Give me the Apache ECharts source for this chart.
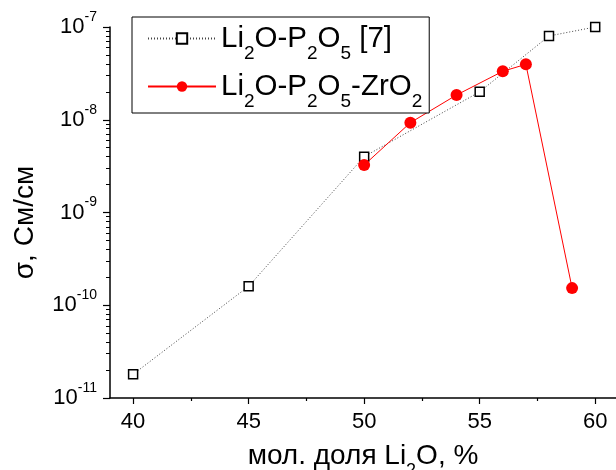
<!DOCTYPE html>
<html>
<head>
<meta charset="utf-8">
<script src="https://cdn.jsdelivr.net/npm/echarts@6/dist/echarts.min.js"></script>
<style>
html,body{margin:0;padding:0;background:#fff;}
#c{width:616px;height:470px;}
</style>
</head>
<body>
<div id="c"></div>
<script>
// Data
const seriesNames = ['Li2O-P2O5 [7]', 'Li2O-P2O5-ZrO2'];
const refX = [40, 45, 50, 55, 58, 60];
const refY = [1.8e-11, 1.6e-10, 4.0e-9, 2.0e-8, 8.0e-8, 1.0e-7];
const zrX = [50, 52, 54, 56, 57, 59];
const zrY = [3.25e-9, 9.3e-9, 1.85e-8, 3.33e-8, 3.96e-8, 1.53e-10];
const xMajorTicks = [40, 45, 50, 55, 60];
const xMinorTicks = [42.5, 47.5, 52.5, 57.5];
const yMinorTicksExp = [];
for (let e = -11; e < -7; e++) {
  for (let m = 2; m <= 9; m++) yMinorTicksExp.push(e + Math.log10(m));
}

const FONT = 'Liberation Sans, Arial, sans-serif';
const chart = echarts.init(document.getElementById('c'), null, {renderer: 'canvas'});

const legendRich = {
  m: {fontSize: 29.5, fontFamily: FONT, color: '#000', lineHeight: 29},
  s: {fontSize: 19, fontFamily: FONT, color: '#000', lineHeight: 18, padding: [30, 0, 0, 0]}
};
function legendFmt(name) {
  if (name === seriesNames[0]) return '{m|Li}{s|2}{m|O-P}{s|2}{m|O}{s|5}{m| [7]}';
  return '{m|Li}{s|2}{m|O-P}{s|2}{m|O}{s|5}{m|-ZrO}{s|2}';
}

const option = {
  animation: false,
  backgroundColor: '#fff',
  grid: {left: 110, right: 0, top: 27, bottom: 72, containLabel: false, outerBoundsMode: 'none'},
  legend: {
    orient: 'vertical',
    left: 132, top: 17,
    padding: [-3, 7, 2, 15],
    itemGap: -1,
    itemWidth: 68,
    itemHeight: 13,
    borderColor: '#000',
    borderWidth: 1,
    backgroundColor: '#fff',
    data: seriesNames,
    formatter: legendFmt,
    textStyle: {rich: legendRich}
  },
  xAxis: [{
    type: 'value', min: 39, max: 60.9,
    name: '{m|мол. доля Li}{s|2}{m|O, %}',
    nameLocation: 'middle', nameGap: 44, nameMoveOverlap: false,
    nameTextStyle: {rich: {
      m: {fontSize: 28, fontFamily: FONT, color: '#000', lineHeight: 28},
      s: {fontSize: 18, fontFamily: FONT, color: '#000', lineHeight: 18, padding: [30, 0, 0, 0]}
    }},
    axisLine: {onZero: false, lineStyle: {color: '#000', width: 1.5}},
    axisTick: {show: true, length: 6, inside: false, customValues: xMajorTicks, lineStyle: {color: '#000', width: 1.2}},
    axisLabel: {customValues: xMajorTicks, margin: 13, fontSize: 22, fontFamily: FONT, color: '#000'},
    splitLine: {show: false}
  }, {
    type: 'value', min: 39, max: 60.9, position: 'bottom', offset: 0,
    axisLine: {show: true, onZero: false, lineStyle: {color: 'rgba(0,0,0,0)'}},
    axisTick: {show: true, length: 3, inside: false, customValues: xMinorTicks, lineStyle: {color: '#000', width: 1.2}},
    axisLabel: {show: false},
    splitLine: {show: false}
  }],
  yAxis: [{
    type: 'log', logBase: 10, min: 1e-11, max: 1e-7, interval: 1,
    name: 'σ, См/см',
    nameLocation: 'middle', nameGap: 71, nameMoveOverlap: false,
    nameTextStyle: {fontSize: 28, fontFamily: FONT, color: '#000', padding: [0, 20, 0, 0]},
    axisLine: {show: true, onZero: false, lineStyle: {color: '#000', width: 1.5}},
    axisTick: {show: true, length: 7, lineStyle: {color: '#000', width: 1.2}},
    axisLabel: {
      margin: 13,
      formatter: function (v) { return '{b|10}{s|' + Math.round(Math.log10(v)) + '}'; },
      rich: {
        b: {fontSize: 22, fontFamily: FONT, color: '#000', lineHeight: 34},
        s: {fontSize: 14, fontFamily: FONT, color: '#000', lineHeight: 14, verticalAlign: 'top'}
      }
    },
    splitLine: {show: false}
  }, {
    type: 'value', min: -11, max: -7, position: 'left', offset: 0,
    axisLine: {show: true, onZero: false, lineStyle: {color: 'rgba(0,0,0,0)'}},
    axisTick: {show: true, length: 4, inside: false, customValues: yMinorTicksExp, lineStyle: {color: '#000', width: 1}},
    axisLabel: {show: false},
    splitLine: {show: false}
  }],
  series: [{
    name: seriesNames[0],
    type: 'line',
    data: refX.map((x, i) => [x, refY[i]]),
    symbol: 'rect', symbolSize: 9,
    clip: false,
    lineStyle: {color: '#444', width: 1, type: [1, 2]},
    itemStyle: {color: '#fff', borderColor: '#000', borderWidth: 1.5}
  }, {
    name: seriesNames[1],
    type: 'line',
    data: zrX.map((x, i) => [x, zrY[i]]),
    symbol: 'circle', symbolSize: 12,
    clip: false,
    lineStyle: {color: '#ff0000', width: 1},
    itemStyle: {color: '#ff0000', borderWidth: 0}
  }]
};
chart.setOption(option);
</script>
</body>
</html>
